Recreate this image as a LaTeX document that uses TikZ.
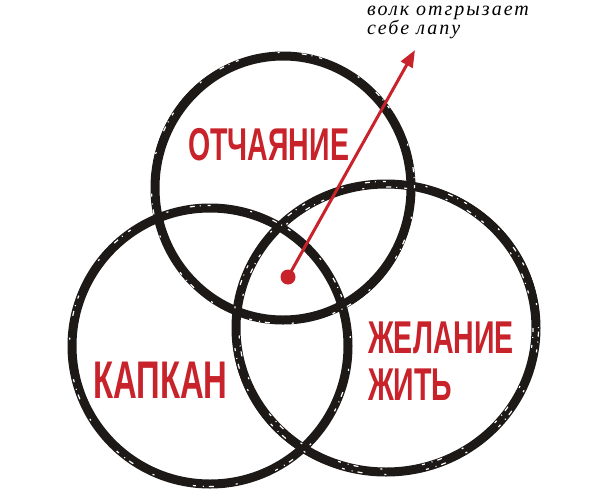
\documentclass[tikz,border=0pt]{standalone}
\usepackage{fontspec}
\usetikzlibrary{arrows.meta,shapes.geometric}
\newfontfamily\tagfont[FakeStretch=0.62]{Liberation Sans Bold}
\newfontfamily\notefont[LetterSpace=10]{Liberation Serif Italic}
\definecolor{inkred}{RGB}{200,34,42}
\definecolor{ink}{RGB}{28,25,23}
\tikzset{
	ring/.style={ellipse, draw=ink, line width=9pt, inner sep=0pt},
	brush/.style={draw=ink, line width=4pt},
	dry/.style={draw=white, line width=1.2pt, dash pattern=on 3pt off 7pt on 1pt off 5pt on 5pt off 22pt on 2pt off 40pt},
	tag/.style={anchor=base west, inner sep=0pt, text=inkred, font=\tagfont\fontsize{46}{47}\selectfont},
	note/.style={anchor=base west, inner sep=0pt, font=\notefont\fontsize{20}{20}\selectfont},
}
\begin{document}
\begin{tikzpicture}[x=1pt, y=-1pt]
	\useasboundingbox (0,0) rectangle (600,496);
	% rings
	\node[ring, minimum width=256pt, minimum height=264pt] (despair) at (283,188) {};
	\node[ring, minimum width=276pt, minimum height=276pt] (trap) at (210,346) {};
	\node[ring, minimum width=300pt, minimum height=288pt] (will) at (386,328) {};
	% brush edges
	\draw[brush, rotate around={20:(despair.center)}] (despair.center) ellipse[x radius=129pt, y radius=133.5pt];
	\draw[brush, rotate around={-15:(trap.center)}] (trap.center) ellipse[x radius=139.5pt, y radius=137pt];
	\draw[brush, rotate around={10:(will.center)}] (will.center) ellipse[x radius=152pt, y radius=145pt];
	\draw[dry] (despair.center) ellipse[x radius=131.5pt, y radius=135.5pt];
	\draw[dry, dash phase=20pt] (will.center) ellipse[x radius=152.5pt, y radius=146.5pt];
	\draw[dry, dash phase=50pt] (will.center) ellipse[x radius=147pt, y radius=141pt];
	\draw[dry, dash phase=35pt] (trap.center) ellipse[x radius=140.5pt, y radius=140.5pt];
	% labels
	\node[tag] (despairtag) at (188,160) {ОТЧАЯНИЕ};
	\node[tag, font=\tagfont\fontsize{53}{54}\selectfont] (traptag) at (93,398) {КАПКАН};
	\node[tag] (willtag) at (368,353) {ЖЕЛАНИЕ};
	\node[tag] (willtag2) at (368,400) {ЖИТЬ};
	% the wolf
	\node[circle, fill=inkred, minimum size=15pt, inner sep=0pt] (dot) at (288,277) {};
	\coordinate (tip) at (415,50);
	\draw[inkred, line width=3pt, -{Triangle[length=17pt, width=13pt]}] (dot.center) -- (tip);
	\node[note] (note1) at (367,15) {волк отгрызает};
	\node[note] (note2) at (367,34) {себе лапу};
\end{tikzpicture}
\end{document}
